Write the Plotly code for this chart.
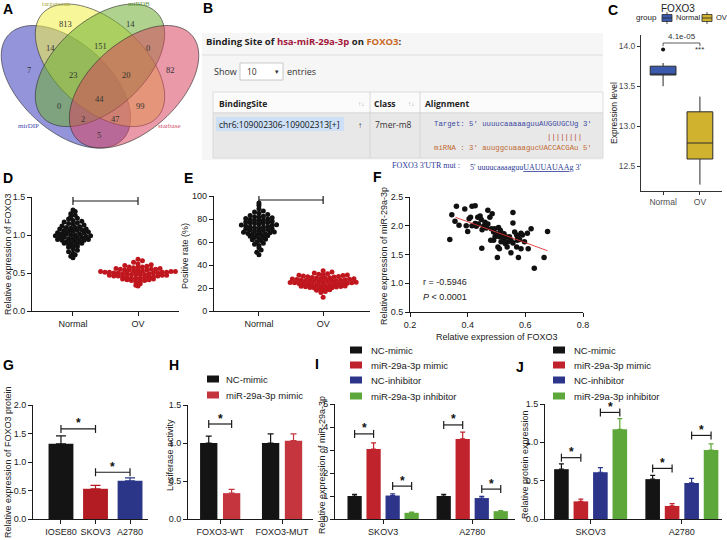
import numpy as np
import plotly.graph_objects as go

W, H = 727, 540
SANS = "Liberation Sans, Arial, sans-serif"
SERIF = "Liberation Serif, DejaVu Serif, serif"
MONO = "Liberation Mono, DejaVu Sans Mono, monospace"
WEB = "Open Sans, Noto Sans, sans-serif"

# ---------------- data ----------------
# A  Venn diagram of predicted targets
venn_names = ["mirDIP", "targetscan", "miRDB", "starbase"]
venn_counts = [813, 14, 7, 82, 14, 151, 0, 23, 20, 0, 44, 99, 2, 47, 5]

# B  binding site table
b_mirna = "hsa-miR-29a-3p"
b_gene = "FOXO3"
b_site = "chr6:109002306-109002313[+]"
b_class = "7mer-m8"
b_target = "Target: 5' uuuucaaaaaguuAUGGUGCUg 3'"
b_pairs = "||||||||"
b_mir = "miRNA : 3' auuggcuaaagucUACCACGAu 5'"
b_mut = "5' uuuucaaaaguu<u>UAUUAUAA</u>g 3'"

# C  FOXO3 expression box plot
c_groups = ["Normal", "OV"]
c_q1 = [13.64, 12.59]
c_median = [13.65, 12.79]
c_q3 = [13.75, 13.18]
c_low = [13.50, 12.27]
c_high = [13.79, 13.37]
c_outlier = [13.96]
c_pvalue = "4.1e-05"

# D  relative expression of FOXO3
d_normal = [1.33, 1.31, 1.28, 1.26, 1.24, 1.22, 1.21, 1.19, 1.18, 1.17,
            1.16, 1.15, 1.14, 1.13, 1.12, 1.11, 1.10, 1.09, 1.08, 1.07,
            1.06, 1.05, 1.04, 1.03, 1.02, 1.01, 1.00, 0.99, 0.98, 0.97,
            0.96, 0.95, 0.94, 0.93, 0.92, 0.91, 0.90, 0.89, 0.88, 0.87,
            0.86, 0.85, 0.84, 0.82, 0.80, 0.78, 0.76, 0.74, 0.72, 0.70,
            1.10, 1.05, 1.01, 0.97, 0.93, 0.89, 1.08, 1.03, 0.99, 0.95,
            0.91, 1.00, 1.06, 0.94, 0.98]
d_ov = [0.68, 0.66, 0.64, 0.62, 0.61, 0.60, 0.59, 0.58, 0.57, 0.56,
        0.55, 0.54, 0.53, 0.52, 0.51, 0.50, 0.49, 0.48, 0.47, 0.46,
        0.45, 0.44, 0.43, 0.42, 0.41, 0.40, 0.39, 0.38, 0.36, 0.34,
        0.33, 0.57, 0.55, 0.53, 0.51, 0.49, 0.47, 0.45, 0.43, 0.41,
        0.56, 0.54, 0.52, 0.50, 0.48, 0.46, 0.44, 0.42, 0.52, 0.50,
        0.48, 0.46, 0.53, 0.51, 0.49, 0.47, 0.45, 0.55, 0.43, 0.50,
        0.58, 0.40, 0.54, 0.48, 0.51]

# E  positive rate (%)
e_normal = [94, 92, 89, 87, 86, 85, 84, 83, 82.5, 82,
            81, 80.5, 80, 79, 78.5, 78, 77, 76.5, 76, 75,
            74.5, 74, 73, 72.5, 72, 71, 70.5, 70, 69, 68.5,
            68, 67, 66.5, 66, 65, 64.5, 64, 63, 62, 61,
            60, 59, 58, 57, 55, 53, 51, 49, 79.5, 77.5,
            75.5, 73.5, 71.5, 69.5, 67.5, 65.5, 76.8, 72.8, 70.8, 68.8,
            74.8, 78.8, 66.8, 62.5, 81.5]
e_ov = [35, 34, 33, 32.5, 32, 31.5, 31, 30.5, 30, 29.5,
        29, 28.5, 28, 27.5, 27, 26.5, 26, 25.5, 25, 24.5,
        24, 23.5, 23, 22.5, 22, 21.5, 21, 20.5, 20, 19.5,
        19, 18.5, 18, 17, 16, 12, 31.2, 29.8, 28.2, 27.2,
        26.2, 25.2, 24.2, 23.2, 22.2, 21.2, 20.2, 19.2, 30.8, 28.8,
        27.8, 26.8, 25.8, 24.8, 23.8, 22.8, 21.8, 20.8, 26.4, 25.6,
        24.6, 23.6, 27.6, 29.2, 22.6]

# F  correlation FOXO3 vs miR-29a-3p
f_foxo3 = [0.338, 0.345, 0.356, 0.361, 0.370, 0.390, 0.400, 0.410, 0.415, 0.426,
           0.415, 0.426, 0.435, 0.437, 0.443, 0.449, 0.450, 0.455, 0.460, 0.470,
           0.470, 0.477, 0.485, 0.490, 0.490, 0.493, 0.500, 0.503, 0.505, 0.507,
           0.510, 0.513, 0.516, 0.520, 0.525, 0.530, 0.533, 0.537, 0.540, 0.550,
           0.550, 0.557, 0.563, 0.557, 0.557, 0.570, 0.570, 0.573, 0.576, 0.580,
           0.585, 0.590, 0.597, 0.607, 0.610, 0.620, 0.631, 0.665, 0.677, 0.480,
           0.510, 0.515, 0.526, 0.495, 0.465, 0.430, 0.405, 0.545, 0.585, 0.395,
           0.572, 0.447, 0.482]
f_mir = [1.76, 2.19, 2.08, 2.34, 2.01, 2.29, 1.90, 2.15, 2.34, 2.35,
         2.00, 2.04, 2.15, 2.03, 2.17, 1.61, 1.93, 1.99, 2.06, 2.03,
         2.27, 2.15, 2.21, 1.75, 1.89, 1.95, 1.86, 1.45, 1.63, 1.97,
         1.81, 1.92, 1.72, 1.84, 1.76, 1.69, 1.81, 1.63, 1.72, 1.75,
         1.53, 1.70, 1.89, 2.05, 2.23, 1.84, 1.63, 1.81, 1.45, 1.76,
         1.60, 1.84, 1.72, 1.87, 1.60, 1.95, 1.26, 1.45, 1.90, 1.75,
         1.60, 1.89, 1.86, 1.81, 1.96, 1.99, 2.12, 1.81, 1.87, 2.00,
         1.75, 2.11, 1.95]
f_r = "-0.5946"
f_p = "0.0001"

# G  FOXO3 protein in cell lines
g_cells = ["IOSE80", "SKOV3", "A2780"]
g_mean = [1.32, 0.53, 0.67]
g_err = [0.14, 0.06, 0.05]
g_sig = [(0, 1, 1.58), (1, 2, 0.82)]

# H  luciferase assay
h_groups = ["FOXO3-WT", "FOXO3-MUT"]
h_series = ["NC-mimic", "miR-29a-3p mimic"]
h_mean = [[1.00, 1.00], [0.34, 1.03]]
h_err = [[0.09, 0.12], [0.05, 0.09]]
h_sig = [(0, 0, 1, 1.25)]

# I, J  cell lines x treatments
ij_cells = ["SKOV3", "A2780"]
ij_series = ["NC-mimic", "miR-29a-3p mimic", "NC-inhibitor", "miR-29a-3p inhibitor"]
i_mean = [[1.00, 1.00], [3.04, 3.48], [1.02, 0.91], [0.27, 0.34]]
i_err = [[0.07, 0.07], [0.27, 0.30], [0.07, 0.07], [0.03, 0.03]]
i_sig = [(0, 0, 1, 3.70), (0, 2, 3, 1.43), (1, 0, 1, 4.09), (1, 2, 3, 1.30)]
j_mean = [[0.65, 0.52], [0.23, 0.17], [0.61, 0.47], [1.17, 0.90]]
j_err = [[0.07, 0.05], [0.03, 0.03], [0.06, 0.06], [0.14, 0.08]]
j_sig = [(0, 0, 1, 0.80), (0, 2, 3, 1.39), (1, 0, 1, 0.66), (1, 2, 3, 1.09)]

# ---------------- helpers ----------------
def px(x):
    return x / W

def py(y):
    return 1 - y / H

shapes, anns, traces = [], [], []

def text(x, y, s, size=9, color="#222", xa="center", ya="middle", family=SANS, angle=0):
    anns.append(dict(x=px(x), y=py(y), xref="paper", yref="paper", text=s, showarrow=False,
                     font=dict(size=size, color=color, family=family), xanchor=xa, yanchor=ya,
                     textangle=angle, borderpad=0))

def rect(x0, y0, x1, y1, fill, line=None, lw=0, layer="above"):
    shapes.append(dict(type="rect", xref="paper", yref="paper", x0=px(x0), x1=px(x1),
                       y0=py(y1), y1=py(y0), fillcolor=fill, layer=layer,
                       line=dict(color=line or fill, width=lw)))

def pline(x0, y0, x1, y1, color, lw=1):
    shapes.append(dict(type="line", xref="paper", yref="paper", x0=px(x0), x1=px(x1),
                       y0=py(y0), y1=py(y1), line=dict(color=color, width=lw)))

# panel geometry: axis id, x pixel span, y pixel span (bottom, top), x range, y range
PANELS = {
    "C": (1, (641, 722), (191, 35), (-0.6, 1.6), (12.19, 14.14)),
    "D": (2, (32, 179), (311, 197), (-0.63, 1.63), (0, 1.5)),
    "E": (3, (214, 370), (311, 196), (-0.70, 1.73), (0, 100)),
    "F": (4, (410, 583), (312, 197), (0.2, 0.8), (0.5, 2.5)),
    "G": (5, (33, 148), (519, 405), (-0.81, 2.52), (0, 2)),
    "H": (6, (188, 313), (519, 405), (-0.52, 1.5), (0, 1.5)),
    "I": (7, (335, 515), (519, 404), (-0.54, 1.48), (0, 5)),
    "J": (8, (545, 722), (519, 404), (-0.5, 1.44), (0, 1.5)),
}

def refs(p):
    n = PANELS[p][0]
    s = "" if n == 1 else str(n)
    return "x" + s, "y" + s

def per_px(p):
    _, xs, ys, xr, yr = PANELS[p]
    return (xr[1] - xr[0]) / (xs[1] - xs[0]), (yr[1] - yr[0]) / (ys[0] - ys[1])

layout = dict(width=W, height=H, margin=dict(l=0, r=0, t=0, b=0, autoexpand=False),
              paper_bgcolor="white", plot_bgcolor="white", showlegend=False, barmode="overlay",
              font=dict(family=SANS, size=9, color="#222"))

def axis_base(color="#1a1a1a", lw=1.1, tlen=4, tsize=9, tcolor="#222"):
    return dict(showline=True, linecolor=color, linewidth=lw, ticks="outside", ticklen=tlen,
                tickwidth=lw, tickcolor=color, showgrid=False, zeroline=False, automargin=False,
                tickfont=dict(size=tsize, color=tcolor, family=SANS))

for p, (n, xs, ys, xr, yr) in PANELS.items():
    s = "" if n == 1 else str(n)
    if p == "C":
        xa = axis_base("#333", 0.9, 3, 8.5, "#4d4d4d")
        ya = axis_base("#333", 0.9, 3, 8.5, "#4d4d4d")
    else:
        xa = axis_base()
        ya = axis_base()
    xa.update(domain=[px(xs[0]), px(xs[1])], range=list(xr), anchor="y" + s)
    ya.update(domain=[py(ys[0]), py(ys[1])], range=list(yr), anchor="x" + s)
    layout["xaxis" + s] = xa
    layout["yaxis" + s] = ya

def bracket(p, x1, x2, level, star="*", tick=4, size=12):
    xr_, yr_ = refs(p)
    _, dy = per_px(p)
    ln = dict(color="#1a1a1a", width=1.2)
    shapes.append(dict(type="line", xref=xr_, yref=yr_, x0=x1, x1=x2, y0=level, y1=level, line=ln))
    for xx in (x1, x2):
        shapes.append(dict(type="line", xref=xr_, yref=yr_, x0=xx, x1=xx,
                           y0=level - tick * dy, y1=level + tick * dy, line=ln))
    anns.append(dict(x=(x1 + x2) / 2, y=level + 5.5 * dy, xref=xr_, yref=yr_, text="<b>" + star + "</b>",
                     showarrow=False, font=dict(size=size, color="#111", family=SANS),
                     xanchor="center", yanchor="middle"))

# ---------------- A: Venn ----------------
venn_geom = [(0.35, 0.47, -45, "rgba(60,60,190,0.55)"),
             (0.50, 0.57, -45, "rgba(240,240,70,0.55)"),
             (0.50, 0.57, 45, "rgba(110,175,50,0.55)"),
             (0.65, 0.47, 45, "rgba(215,70,95,0.55)")]
t = np.linspace(0, 2 * np.pi, 90)
for cu, cv, rot, col in venn_geom:
    r = np.radians(rot)
    u = cu + 0.35 * np.cos(t) * np.cos(r) - 0.2 * np.sin(t) * np.sin(r)
    v = cv + 0.35 * np.cos(t) * np.sin(r) + 0.2 * np.sin(t) * np.cos(r)
    X = 100 + (u - 0.5) * 227
    Y = 4 + (0.855 - v) * 215
    path = "M " + " L ".join(f"{px(a):.5f},{py(b):.5f}" for a, b in zip(X, Y)) + " Z"
    shapes.append(dict(type="path", xref="paper", yref="paper", path=path, fillcolor=col,
                       line=dict(color="rgba(50,50,50,0.8)", width=0.8)))
venn_pos = [(65, 24), (130, 24), (29, 70), (170, 70), (50, 48), (100, 46), (148, 48),
            (73, 75), (126, 75), (59, 106), (99, 99), (140, 106), (83, 119), (115, 119), (99, 135)]
for (x, y), c in zip(venn_pos, venn_counts):
    text(x, y, str(c), size=8.5, color="#333", family=SERIF)
name_pos = [(28, 126, "#4a4ab0"), (56, 4, "#a8a838"), (139, 4, "#5f9a3c"), (169, 126, "#cc4a64")]
for (x, y, col), nm in zip(name_pos, venn_names):
    text(x, y, nm, size=7, color=col, family=SERIF)

# ---------------- B: table ----------------
rect(202, 33, 603, 160, "#f6f6f6", layer="below")
pline(202, 55, 603, 55, "#dedede", 1)
rect(213, 92, 603, 113, "#fbfbfb", "#d6d6d6", 0.8, layer="below")
rect(213, 113, 603, 158, "#e8e8e8", "#d6d6d6", 0.8, layer="below")
pline(370, 92, 370, 158, "#d0d0d0", 0.8)
pline(420, 92, 420, 158, "#d0d0d0", 0.8)
rect(216, 117, 344, 131, "#cde0f6", layer="below")
rect(240, 63, 283, 80, "white", "#bdbdbd", 0.8, layer="below")
text(205, 41, f"<b>Binding Site of <span style='color:#a3173b'>{b_mirna}</span> on "
     f"<span style='color:#c9681f'>{b_gene}</span>:</b>", size=9.5, xa="left", family=WEB)
text(213, 71, "Show", size=9, color="#333", xa="left", family=WEB)
text(246, 71, "10", size=8.5, color="#333", xa="left", family=WEB)
text(277, 72, "▾", size=7, color="#333", family=WEB)
text(286, 71, "entries", size=9, color="#333", xa="left", family=WEB)
text(218, 103, "<b>BindingSite</b>", size=8.5, xa="left", family=WEB)
text(373, 103, "<b>Class</b>", size=8.5, xa="left", family=WEB)
text(424, 103, "<b>Alignment</b>", size=8.5, xa="left", family=WEB)
text(361, 103, "↑↓", size=6.5, color="#aaa", family=WEB)
text(411, 103, "↑↓", size=6.5, color="#aaa", family=WEB)
text(218, 124, b_site, size=8.5, color="#111", xa="left", family=WEB)
text(360, 124, "↑", size=8, color="#333", family=WEB)
text(374, 124, b_class, size=8.5, color="#333", xa="left", family=WEB)
text(433, 124, b_target, size=7.3, color="#3c49a0", xa="left", family=MONO)
text(546, 137, b_pairs, size=7.3, color="#b5462d", xa="left", family=MONO)
text(433, 148, b_mir, size=7.3, color="#c06a30", xa="left", family=MONO)
text(391, 166, "FOXO3 3'UTR mut :", size=8, color="#2a3a95", xa="left", family=SERIF)
text(469, 167, b_mut, size=8, color="#2a3a95", xa="left", family=SERIF)

# ---------------- C: box plot ----------------
xr_, yr_ = refs("C")
c_fill = ["#3a5aad", "#d1b22f"]
for i in range(2):
    traces.append(go.Box(x=[i], q1=[c_q1[i]], median=[c_median[i]], q3=[c_q3[i]],
                         lowerfence=[c_low[i]], upperfence=[c_high[i]], width=0.7,
                         whiskerwidth=0, fillcolor=c_fill[i], line=dict(color="#2a2a2a", width=1),
                         boxpoints=False, hoverinfo="skip", xaxis=xr_, yaxis=yr_))
traces.append(go.Scatter(x=[0] * len(c_outlier), y=c_outlier, mode="markers",
                         marker=dict(color="#111", size=4), xaxis=xr_, yaxis=yr_))
layout["xaxis"].update(tickvals=[0, 1], ticktext=c_groups)
layout["yaxis"].update(tickvals=[12.5, 13.0, 13.5, 14.0], tickformat=".1f")
shapes.append(dict(type="path", xref=xr_, yref=yr_,
                   path=f"M 0,{14.0} L 0,{14.04} L 1,{14.04} L 1,{14.0}",
                   line=dict(color="#333", width=0.8)))
anns.append(dict(x=0.5, y=14.04, xref=xr_, yref=yr_, text=c_pvalue, showarrow=False,
                 font=dict(size=8, color="#333"), yanchor="bottom"))
anns.append(dict(x=1, y=c_outlier[0], xref=xr_, yref=yr_, text="***", showarrow=False,
                 font=dict(size=8, color="#333"), yanchor="middle"))
text(678, 8, "FOXO3", size=10, color="#222")
text(646, 18, "group", size=8, color="#222")
for x0, col, lab in [(662, c_fill[0], "Normal"), (702, c_fill[1], "OV")]:
    pline(x0 + 5, 12, x0 + 5, 24, "#2a2a2a", 0.8)
    rect(x0, 14.5, x0 + 10, 21.5, col, "#2a2a2a", 0.8)
    pline(x0, 18, x0 + 10, 18, "#2a2a2a", 0.8)
    text(x0 + 13, 18, lab, size=7.5, color="#222", xa="left")
text(614, 113, "Expression level", size=8.5, color="#222", angle=-90)

# ---------------- D, E: dot plots ----------------
def swarm(vals, center, ypx, xpx, row_h, step):
    # GraphPad-like: values binned into rows, points spread evenly across each row
    v = np.sort(np.asarray(vals, dtype=float))
    rows = np.floor(v / ypx / row_h).astype(int)
    xs = np.empty(len(v))
    for b in np.unique(rows):
        idx = np.where(rows == b)[0]
        n = len(idx)
        slots = (np.arange(n) - (n - 1) / 2) * step
        order = np.argsort(np.abs(slots), kind="stable")
        xs[idx] = center + slots[order] * xpx
    return xs, v

for p, groups in [("D", [d_normal, d_ov]), ("E", [e_normal, e_ov])]:
    xr_, yr_ = refs(p)
    dx, dy = per_px(p)
    for gi, (vals, col) in enumerate(zip(groups, ["#111111", "#c0161e"])):
        xs, ys = swarm(vals, gi, dy, dx, 3.6, 4.4)
        traces.append(go.Scatter(x=xs, y=ys, mode="markers", marker=dict(color=col, size=5),
                                 xaxis=xr_, yaxis=yr_, hoverinfo="skip"))
    n = PANELS[p][0]
    layout[f"xaxis{n}"].update(tickvals=[0, 1], ticktext=["Normal", "OV"])
    bracket(p, 0, 1, PANELS[p][4][1] - 4 * dy, tick=4)
layout["yaxis2"].update(tickvals=[0, 0.5, 1.0, 1.5], tickformat=".1f")
layout["yaxis3"].update(tickvals=[0, 20, 40, 60, 80, 100])
text(8, 254, "Relative expression of FOXO3", size=9, angle=-90)
text(185, 256, "Positive rate (%)", size=9, angle=-90)

# ---------------- F: correlation ----------------
xr_, yr_ = refs("F")
traces.append(go.Scatter(x=f_foxo3, y=f_mir, mode="markers", marker=dict(color="#111", size=5.5),
                         xaxis=xr_, yaxis=yr_, hoverinfo="skip"))
k, b0 = np.polyfit(f_foxo3, f_mir, 1)
xl = np.array([min(f_foxo3) + 0.02, max(f_foxo3)])
traces.append(go.Scatter(x=xl, y=k * xl + b0, mode="lines", line=dict(color="#e03434", width=0.9),
                         xaxis=xr_, yaxis=yr_, hoverinfo="skip"))
layout["xaxis4"].update(tickvals=[0.2, 0.4, 0.6, 0.8], tickformat=".1f")
layout["yaxis4"].update(tickvals=[0.5, 1.0, 1.5, 2.0, 2.5], tickformat=".1f")
text(422, 282, f"r = {f_r}", size=9, xa="left")
text(422, 297, f"<i>P</i> < {f_p}", size=9, xa="left")
text(497, 337, "Relative expression of FOXO3", size=9)
text(384, 256, "Relative expression of miR-29a-3p", size=9, angle=-90)

# ---------------- G ----------------
xr_, yr_ = refs("G")
g_col = ["#141414", "#b31c22", "#2b3688"]
for i in range(3):
    traces.append(go.Bar(x=[i], y=[g_mean[i]], width=0.72, marker=dict(color=g_col[i], line=dict(width=0)),
                         error_y=dict(type="data", array=[g_err[i]], arrayminus=[0], symmetric=False,
                                      color=g_col[i], thickness=1.2, width=5),
                         xaxis=xr_, yaxis=yr_, hoverinfo="skip"))
layout["xaxis5"].update(tickvals=[0, 1, 2], ticktext=g_cells)
layout["yaxis5"].update(tickvals=[0, 0.5, 1.0, 1.5, 2.0], tickformat=".1f")
for a, c, lvl in g_sig:
    bracket("G", a, c, lvl)
text(8, 462, "Relative expression of FOXO3 protein", size=9, angle=-90)

# ---------------- H ----------------
xr_, yr_ = refs("H")
h_col = ["#141414", "#c4353d"]
h_off = [-0.185, 0.185]
for si in range(2):
    xs = [g + h_off[si] for g in range(2)]
    traces.append(go.Bar(x=xs, y=h_mean[si], width=0.28, marker=dict(color=h_col[si], line=dict(width=0)),
                         error_y=dict(type="data", array=h_err[si], arrayminus=[0, 0], symmetric=False,
                                      color=h_col[si], thickness=1.2, width=3),
                         xaxis=xr_, yaxis=yr_, hoverinfo="skip"))
layout["xaxis6"].update(tickvals=[0, 1], ticktext=h_groups)
layout["yaxis6"].update(tickvals=[0, 0.5, 1.0, 1.5], tickformat=".1f")
for g, a, c, lvl in h_sig:
    bracket("H", g + h_off[a], g + h_off[c], lvl)
for si, lab in enumerate(h_series):
    y = 379 + 16 * si
    rect(207, y - 3.5, 219, y + 3.5, h_col[si])
    text(225, y, lab, size=9.5, xa="left")
text(170, 455, "Luciferase activity", size=9, angle=-90)

# ---------------- I, J ----------------
ij_col = ["#141414", "#c1232c", "#2c3589", "#5ea73a"]
ij_off = [-0.32, -0.107, 0.107, 0.32]
for p, means, errs, sigs, lx, ttl, tx in [
        ("I", i_mean, i_err, i_sig, 350, "Relative expression of miR-29a-3p", 322),
        ("J", j_mean, j_err, j_sig, 553, "Relative protein expression", 525)]:
    xr_, yr_ = refs(p)
    for si in range(4):
        xs = [g + ij_off[si] for g in range(2)]
        traces.append(go.Bar(x=xs, y=means[si], width=0.16,
                             marker=dict(color=ij_col[si], line=dict(width=0)),
                             error_y=dict(type="data", array=errs[si], arrayminus=[0, 0], symmetric=False,
                                          color=ij_col[si], thickness=1.2, width=2.5),
                             xaxis=xr_, yaxis=yr_, hoverinfo="skip"))
    for g, a, c, lvl in sigs:
        bracket(p, g + ij_off[a], g + ij_off[c], lvl)
    for si, lab in enumerate(ij_series):
        y = [350, 365, 380, 396][si]
        rect(lx, y - 3.5, lx + 12, y + 3.5, ij_col[si])
        text(lx + 20, y, lab, size=9.5, xa="left")
    text(tx, 465, ttl, size=9, angle=-90)
layout["xaxis7"].update(tickvals=[0, 1], ticktext=ij_cells)
layout["yaxis7"].update(tickvals=[0, 1, 2, 3, 4, 5])
layout["xaxis8"].update(tickvals=[0, 1], ticktext=ij_cells)
layout["yaxis8"].update(tickvals=[0, 0.5, 1.0, 1.5], tickformat=".1f")

# ---------------- panel letters ----------------
for lab, x, y in [("A", 2, 9), ("B", 202, 8), ("C", 607, 10), ("D", 2, 178), ("E", 183, 178),
                  ("F", 372, 177), ("G", 2, 365), ("H", 168, 365), ("I", 314, 364), ("J", 515, 367)]:
    text(x, y, f"<b>{lab}</b>", size=14, color="#000", xa="left")

layout["shapes"] = shapes
layout["annotations"] = anns
fig = go.Figure(data=traces, layout=layout)
# the page body has a default 8px margin; drop it so the figure sits at the window's corner
fig.write_html("out.html", config={"displayModeBar": False},
               post_script="document.body.style.margin='0';")
